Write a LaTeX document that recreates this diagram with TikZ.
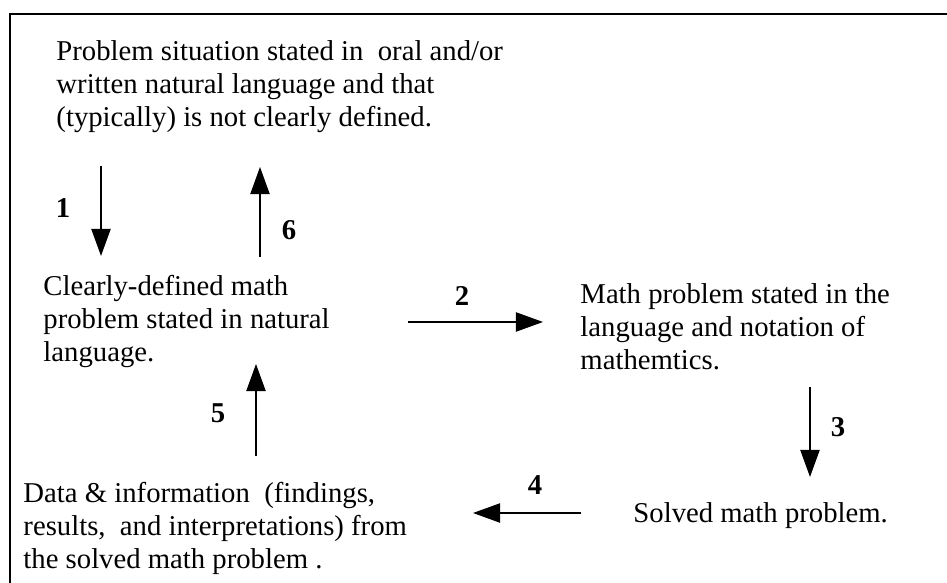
\documentclass[tikz,border=0pt]{standalone}
\usepackage{fontspec}
\setmainfont{Liberation Serif}
\usetikzlibrary{arrows.meta,positioning}

\begin{document}
\begin{tikzpicture}[
    x=0.418pt, y=-0.418pt,
    font=\fontsize{12}{13.8}\selectfont,
    >={Triangle[length=11.3pt,width=8pt]},
    txt/.style={anchor=base west, inner sep=0pt, align=left},
    lbl/.style={inner sep=0pt, font=\fontsize{12}{13.8}\selectfont\bfseries},
    arr/.style={->, line width=0.7pt}
  ]
    \useasboundingbox (0,0) rectangle (947,583);
    % frame (cut off at right and bottom)
    \draw[line width=1.1pt] (10,583) -- (10,14) -- (947,14);

    % base west = baseline of the last line
    \node[txt] (sit) at (56,127) {Problem situation stated in \ oral and/or\\written natural language and that\\(typically) is not clearly defined.};
    \node[txt] (def) at (43,362) {Clearly-defined math\\problem stated in natural\\language.};
    \node[txt] (mth) at (580,370) {Math problem stated in the\\language and notation of\\mathemtics.};
    \node[txt] (sol) at (633,523) {Solved math problem.};
    \node[txt] (dat) at (23,569) {Data \& information \ (findings,\\results, \ and interpretations) from\\the solved math problem .};

    \coordinate (a1s) at (101,166); \coordinate (a1e) at (101,256);
    \coordinate (a6s) at (260,257); \coordinate (a6e) at (260,167);
    \coordinate (a2s) at (408,322); \coordinate (a2e) at (543,322);
    \coordinate (a3s) at (810,387); \coordinate (a3e) at (810,477);
    \coordinate (a4s) at (581,513); \coordinate (a4e) at (473,513);
    \coordinate (a5s) at (256,456); \coordinate (a5e) at (256,364);

    \draw[arr] (a1s) -- (a1e);
    \draw[arr] (a6s) -- (a6e);
    \draw[arr] (a2s) -- (a2e);
    \draw[arr] (a3s) -- (a3e);
    \draw[arr] (a4s) -- (a4e);
    \draw[arr] (a5s) -- (a5e);

    \node[lbl] (n1) at (63,208) {1};
    \node[lbl] (n6) at (289,230) {6};
    \node[lbl] (n2) at (462,296) {2};
    \node[lbl] (n3) at (838,427) {3};
    \node[lbl] (n4) at (535,485) {4};
    \node[lbl] (n5) at (218,413) {5};
  \end{tikzpicture}
\end{document}
